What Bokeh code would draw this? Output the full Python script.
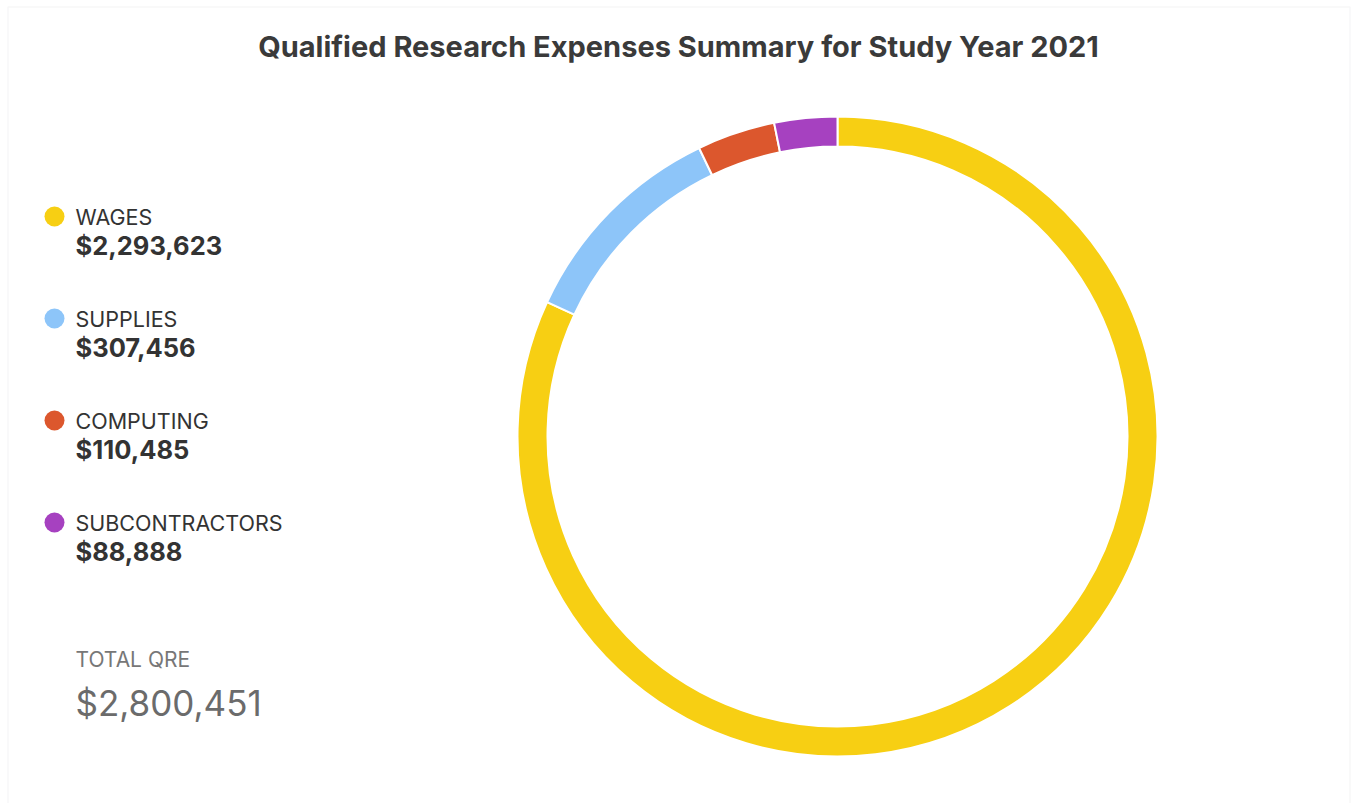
from bokeh.plotting import figure
from bokeh.models import Range1d, BoxAnnotation
from bokeh.core.properties import value
from bokeh.embed import file_html
from bokeh.resources import INLINE
import math

W, H = 1351, 803

title = "Qualified Research Expenses Summary for Study Year 2021"
categories = ["WAGES", "SUPPLIES", "COMPUTING", "SUBCONTRACTORS"]
amounts = [2293623, 307456, 110485, 88888]
colors = ["#F7CF13", "#8DC5F9", "#DC572D", "#A641C0"]
total_label = "TOTAL QRE"
total_qre = 2800451

p = figure(width=W, height=H, output_backend="svg", toolbar_location=None,
           x_range=Range1d(0, W), y_range=Range1d(0, H),
           min_border=0, outline_line_color=None, background_fill_color="white",
           border_fill_color="white")
p.axis.visible = False
p.grid.visible = False

def Y(py):
    return H - py

# card border
p.add_layout(BoxAnnotation(left=7.5, right=1349.5, top=Y(6.5), bottom=Y(830),
                           fill_color=None, line_color="#E4E4E8", line_width=1.5))

# donut
s = float(sum(amounts))
cx, cy = 837, Y(436)
starts, ends = [], []
cum = 0.0
for a in amounts:
    starts.append(math.pi / 2 - 2 * math.pi * cum / s)
    cum += a
    ends.append(math.pi / 2 - 2 * math.pi * cum / s)
p.annular_wedge(x=[cx] * len(amounts), y=[cy] * len(amounts),
                inner_radius=290, outer_radius=320,
                start_angle=starts, end_angle=ends, direction="clock",
                fill_color=colors, line_color="white", line_width=2)

# title
p.text(x=[678], y=[Y(46)], text=[title], text_align="center", text_baseline="middle",
       text_font=value("Inter"), text_font_size="29px", text_color="#3A3A3A",
       text_font_style="bold")

# legend
ly = [Y(216 + i * 102) for i in range(len(categories))]
vy = [Y(245 + i * 102) for i in range(len(categories))]
p.scatter(x=[54] * len(categories), y=ly, size=20, marker="circle",
          fill_color=colors, line_color=None)
p.text(x=[75] * len(categories), y=ly, text=categories, text_align="left",
       text_baseline="middle", text_font=value("Inter"), text_font_size="21.5px",
       text_color="#333333")
p.text(x=[75] * len(categories), y=vy, text=[f"${a:,}" for a in amounts],
       text_align="left", text_baseline="middle", text_font=value("Inter"),
       text_font_size="25.5px", text_font_style="bold", text_color="#333333")

# total
p.text(x=[75], y=[Y(659)], text=[total_label], text_align="left", text_baseline="middle",
       text_font=value("Inter"), text_font_size="21px", text_color="#777777")
p.text(x=[75], y=[Y(702)], text=[f"${total_qre:,}"], text_align="left",
       text_baseline="middle", text_font=value("Inter"), text_font_size="35px",
       text_color="#6B6B6B")

open("out.html", "w").write(file_html(p, INLINE))
